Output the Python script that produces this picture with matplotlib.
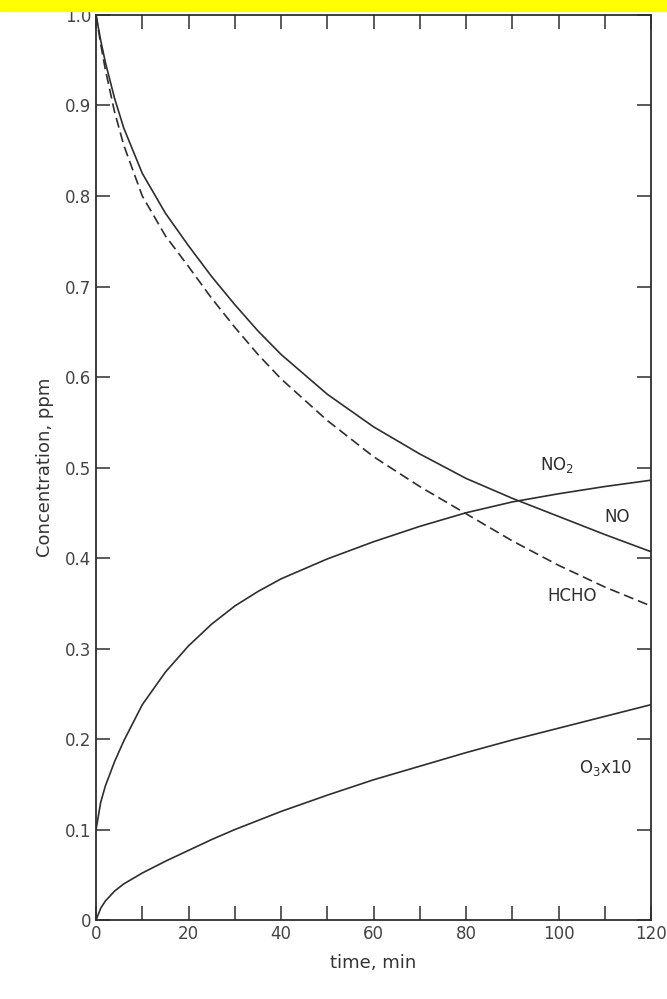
import numpy as np
import matplotlib.pyplot as plt
from matplotlib.patches import Rectangle

# values
t = [0, 1, 2, 4, 6, 10, 15, 20, 25, 30, 35, 40, 50, 60, 70, 80, 90, 100, 110, 120]
no = [1.0, 0.972, 0.948, 0.908, 0.875, 0.825, 0.781, 0.745, 0.711, 0.68, 0.651, 0.625, 0.581, 0.545, 0.515, 0.488, 0.466, 0.446, 0.426, 0.407]
hcho = [1.0, 0.968, 0.94, 0.893, 0.856, 0.8, 0.756, 0.722, 0.687, 0.655, 0.625, 0.598, 0.552, 0.512, 0.479, 0.449, 0.419, 0.392, 0.368, 0.347]
no2 = [0.10, 0.13, 0.148, 0.175, 0.198, 0.238, 0.274, 0.303, 0.327, 0.347, 0.363, 0.377, 0.399, 0.418, 0.435, 0.45, 0.462, 0.471, 0.479, 0.486]
o3x10 = [0.0, 0.013, 0.021, 0.032, 0.04, 0.052, 0.065, 0.077, 0.089, 0.1, 0.11, 0.12, 0.138, 0.155, 0.17, 0.185, 0.199, 0.212, 0.225, 0.238]

xticks = [0, 20, 40, 60, 80, 100, 120]
yticks = [0, 0.1, 0.2, 0.3, 0.4, 0.5, 0.6, 0.7, 0.8, 0.9, 1.0]
ylabels = ["0", "0.1", "0.2", "0.3", "0.4", "0.5", "0.6", "0.7", "0.8", "0.9", "1.0"]

ink = "#2e2e2e"
fig = plt.figure(figsize=(6.67, 9.99), dpi=100)
fig.patches.append(Rectangle((0, 0.989), 1, 0.011, transform=fig.transFigure,
                             color="#ffff00", zorder=0))
ax = fig.add_axes([0.144, 0.079, 0.832, 0.906])

ax.plot(t, no, color=ink, lw=1.2)
ax.plot(t, hcho, color=ink, lw=1.2, ls=(0, (6, 3)))
ax.plot(t, no2, color=ink, lw=1.2)
ax.plot(t, o3x10, color=ink, lw=1.2)

ax.text(96, 0.497, "NO$_2$", fontsize=12, color=ink)
ax.text(110, 0.44, "NO", fontsize=12, color=ink)
ax.text(97.5, 0.353, "HCHO", fontsize=12, color=ink)
ax.text(104.5, 0.163, "O$_3$x10", fontsize=12, color=ink)

ax.set_xlim(0, 120)
ax.set_ylim(0, 1.0)
ax.set_xticks(xticks)
ax.set_xticks(np.arange(0, 121, 10), minor=True)
ax.set_yticks(yticks)
ax.set_yticklabels(ylabels)
ax.tick_params(which="both", direction="in", top=True, right=True, color=ink,
               labelcolor="#444444", labelsize=12, width=1.1)
ax.tick_params(which="major", length=10)
ax.tick_params(which="minor", length=10)
for s in ax.spines.values():
    s.set_color(ink)
    s.set_linewidth(1.3)

ax.set_xlabel("time, min", fontsize=13, color="#333333", labelpad=8)
ax.set_ylabel("Concentration, ppm", fontsize=13, color="#333333", labelpad=8)

fig.savefig("out.png", dpi=100)
